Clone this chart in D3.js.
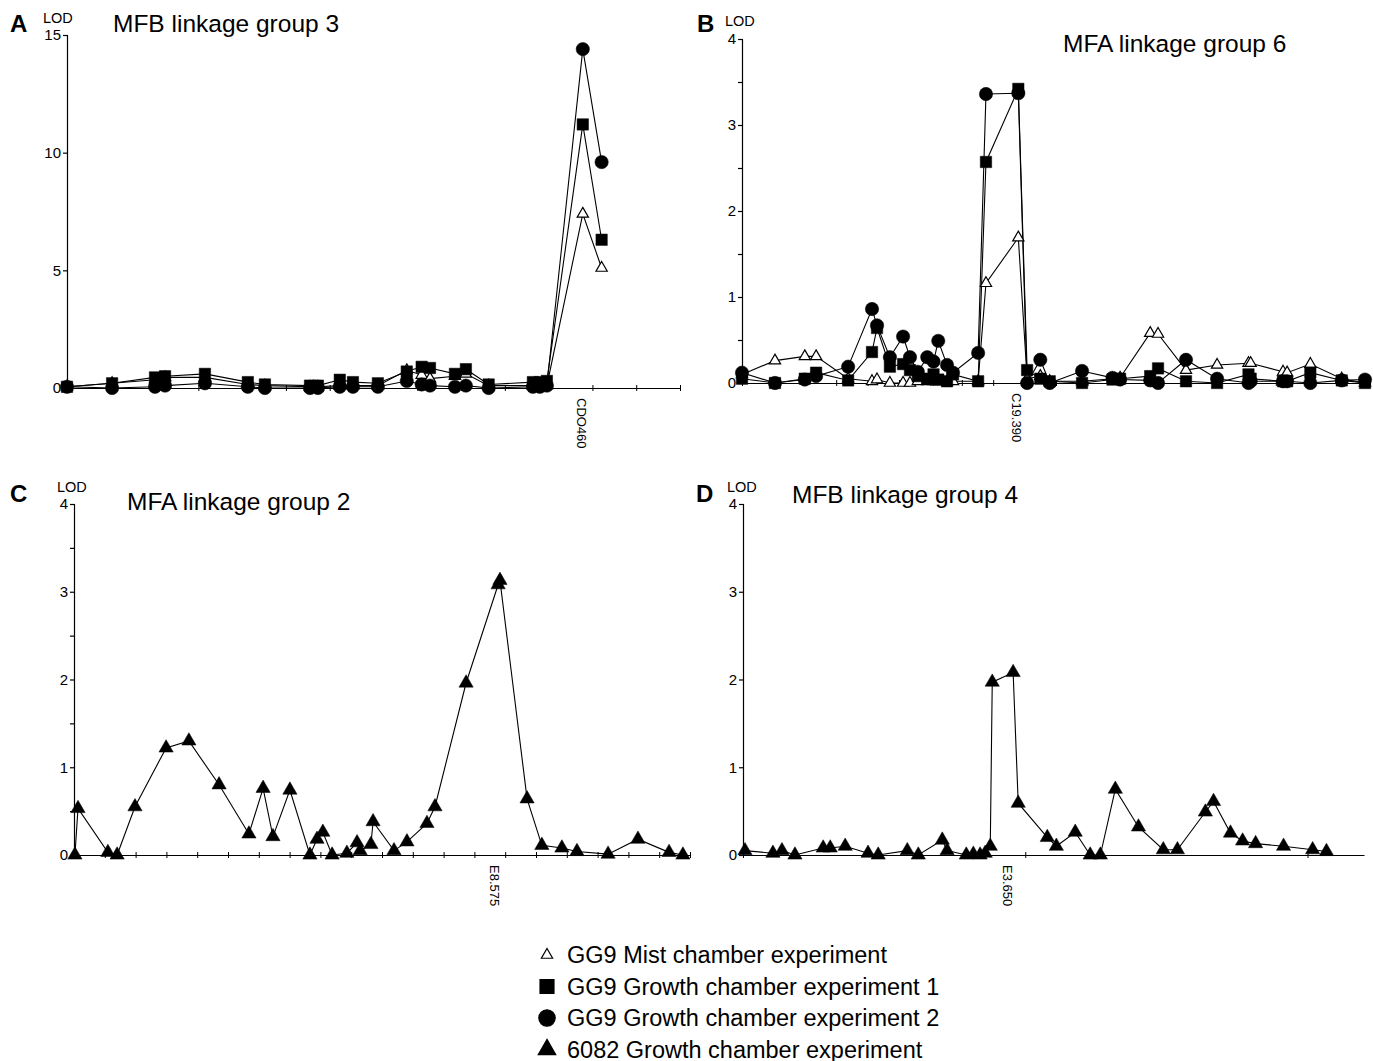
<!DOCTYPE html>
<html>
<head>
<meta charset="utf-8">
<script src="https://cdn.jsdelivr.net/npm/d3@7"></script>
<style>
    body { margin: 0; background: #fff; }
    svg text { font-family: "Liberation Sans", Arial, Helvetica, sans-serif; fill: #000; }
</style>
</head>
<body>
<div id="content"></div>
<script>
// ======= data: panel A (MFB linkage group 3) =======
var posA = [0, 10.3, 20.1, 22.4, 31.5, 41.3, 45.2, 55.5, 57.3, 62.3, 65.3, 71, 77.6, 81, 82.9, 88.6, 91.1, 96.3, 106.4, 108, 109.6, 117.8, 122.1];
var mistA = [0.05, 0.2, 0.35, 0.45, 0.45, 0.15, 0.1, 0.05, 0.05, 0.1, 0.1, 0.1, 0.75, 0.55, 0.4, 0.5, 0.6, 0.1, 0.1, 0.05, 0.1, 7.4, 5.1];
var gc1A = [0.05, 0.2, 0.45, 0.5, 0.6, 0.25, 0.15, 0.1, 0.1, 0.35, 0.25, 0.2, 0.7, 0.9, 0.85, 0.6, 0.8, 0.15, 0.25, 0.25, 0.3, 11.2, 6.3];
var gc2A = [0.05, 0.0, 0.05, 0.1, 0.2, 0.05, 0.0, 0.0, 0.0, 0.05, 0.05, 0.05, 0.3, 0.15, 0.1, 0.05, 0.1, 0.0, 0.05, 0.05, 0.1, 14.4, 9.6];

// ======= data: panel B (MFA linkage group 6) =======
var posB = [0, 10.5, 20, 23.6, 33.8, 41.4, 43, 47.1, 51.3, 53.5, 56, 59, 61, 62.5, 65.3, 67.2, 75.2, 77.7, 88, 90.8, 95, 98, 108.3, 118, 120.4, 130, 132.5, 141.4, 151.3, 161.3, 162, 172.3, 173.6, 181, 191, 198.4];
var mistB = [0.1, 0.26, 0.31, 0.31, 0.05, 0.02, 0.04, 0.0, 0.0, 0.0, 0.02, 0.02, 0.02, 0.02, 0.02, 0.02, 0.02, 1.16, 1.69, 0.05, 0.08, 0.02, 0.02, 0.05, 0.06, 0.58, 0.57, 0.15, 0.21, 0.23, 0.23, 0.13, 0.12, 0.22, 0.05, 0.0];
var gc1B = [0.05, 0.0, 0.05, 0.12, 0.03, 0.36, 0.64, 0.19, 0.22, 0.15, 0.08, 0.05, 0.1, 0.04, 0.02, 0.1, 0.02, 2.57, 3.42, 0.15, 0.05, 0.02, 0.0, 0.04, 0.05, 0.08, 0.17, 0.02, 0.0, 0.1, 0.05, 0.02, 0.02, 0.12, 0.03, 0.0];
var gc2B = [0.12, 0.0, 0.04, 0.08, 0.19, 0.86, 0.67, 0.3, 0.54, 0.3, 0.13, 0.3, 0.25, 0.49, 0.21, 0.12, 0.35, 3.36, 3.37, 0.0, 0.27, 0.0, 0.14, 0.06, 0.04, 0.03, 0.0, 0.27, 0.05, 0.0, 0.02, 0.02, 0.02, 0.0, 0.03, 0.04];

// ======= data: panel C (MFA linkage group 2) =======
var posC = [0.3, 1.3, 11, 14, 19.8, 29.9, 37.3, 47.1, 56.8, 61.4, 64.6, 70.1, 76.6, 78.9, 80.8, 83.8, 88.6, 91.9, 92.9, 96.4, 97.1, 103.9, 108.1, 114.6, 117.2, 127.3, 137.7, 138.3, 147.1, 151.9, 158.4, 163.3, 173.4, 183.1, 193.2, 197.7];
var line6082C = [0.0, 0.53, 0.03, 0.0, 0.55, 1.22, 1.3, 0.8, 0.24, 0.76, 0.21, 0.74, 0.0, 0.18, 0.26, 0.0, 0.02, 0.14, 0.05, 0.12, 0.38, 0.05, 0.15, 0.36, 0.55, 1.96, 3.08, 3.13, 0.64, 0.11, 0.08, 0.04, 0.01, 0.18, 0.03, 0.0];

// ======= data: panel D (MFB linkage group 4) =======
var posD = [0.7, 10.6, 13.8, 18.4, 28.4, 30.9, 36.2, 44.3, 47.9, 58.2, 62.1, 70.6, 72.3, 79.1, 81.6, 84, 85.8, 87.6, 88.3, 95.7, 97.5, 107.8, 111, 117.7, 123, 126.6, 131.9, 140.1, 148.9, 153.9, 163.8, 166.7, 172.7, 177, 181.6, 191.5, 201.8, 206.7];
var line6082D = [0.05, 0.02, 0.05, 0.0, 0.08, 0.08, 0.1, 0.02, 0.0, 0.05, 0.0, 0.17, 0.05, 0.0, 0.01, 0.0, 0.02, 0.1, 1.97, 2.08, 0.59, 0.2, 0.1, 0.26, 0.0, 0.0, 0.75, 0.32, 0.06, 0.06, 0.49, 0.61, 0.25, 0.16, 0.13, 0.1, 0.06, 0.04];

// ======= labels =======
var legendLabels = ["GG9 Mist chamber experiment", "GG9 Growth chamber experiment 1", "GG9 Growth chamber experiment 2", "6082 Growth chamber experiment"];

var panels = [
    { letter: "A", title: "MFB linkage group 3", left: 67, right: 680, top: 35, bottom: 388,
      xMax: 140, xTicks: d3.range(0, 141, 10), yMax: 15, yTicks: [0, 5, 10, 15],
      marker: "CDO460", markerPos: 117.6,
      letterXY: [10, 32], lodXY: [43, 23], titleXY: [113, 32],
      series: [{ pos: posA, val: mistA, sym: "open" }, { pos: posA, val: gc1A, sym: "square" }, { pos: posA, val: gc2A, sym: "circle" }] },
    { letter: "B", title: "MFA linkage group 6", left: 742, right: 1370, top: 39, bottom: 383,
      xMax: 200, xTicks: d3.range(0, 201, 10), yMax: 4, yTicks: d3.range(0, 4.01, 0.5),
      marker: "C19.390", markerPos: 87.6,
      letterXY: [697, 32], lodXY: [725, 26], titleXY: [1063, 52],
      series: [{ pos: posB, val: mistB, sym: "open" }, { pos: posB, val: gc1B, sym: "square" }, { pos: posB, val: gc2B, sym: "circle" }] },
    { letter: "C", title: "MFA linkage group 2", left: 74, right: 690, top: 504, bottom: 855,
      xMax: 200, xTicks: d3.range(0, 201, 10), yMax: 4, yTicks: d3.range(0, 4.01, 0.5),
      marker: "E8.575", markerPos: 136.7,
      letterXY: [10, 502], lodXY: [57, 492], titleXY: [127, 510],
      series: [{ pos: posC, val: line6082C, sym: "triangle" }] },
    { letter: "D", title: "MFB linkage group 4", left: 743, right: 1364, top: 504, bottom: 855,
      xMax: 220, xTicks: [0, 100, 200], yMax: 4, yTicks: [0, 1, 2, 3, 4],
      marker: "E3.650", markerPos: 94,
      letterXY: [696, 502], lodXY: [727, 492], titleXY: [792, 503],
      series: [{ pos: posD, val: line6082D, sym: "triangle" }] }
];

// ======= symbols =======
function symbolPath(sym, scale) {
    scale = scale || 1;
    if (sym == "circle") return d3.symbol().type(d3.symbolCircle).size(140 * scale)();
    if (sym == "square") return d3.symbol().type(d3.symbolSquare).size(130 * scale)();
    if (sym == "open") return d3.symbol().type(d3.symbolTriangle).size(55 * scale)();
    return d3.symbol().type(d3.symbolTriangle).size(88 * scale)();
}

var svg = d3.select("#content").append("svg")
    .attr("width", 1373)
    .attr("height", 1061);

// ======= draw each panel =======
panels.forEach(function(p) {
    var x = d3.scaleLinear().domain([0, p.xMax]).range([p.left, p.right]);
    var y = d3.scaleLinear().domain([0, p.yMax]).range([p.bottom, p.top]);
    var g = svg.append("g");

    // == x axis
    var xAxis = g.append("g")
        .attr("transform", "translate(0," + p.bottom + ")")
        .call(d3.axisBottom(x).tickValues(p.xTicks).tickSizeInner(3).tickSizeOuter(0).tickFormat(""));
    xAxis.selectAll(".tick line").attr("y1", -3).attr("y2", 3);
    xAxis.selectAll("path, line").attr("stroke", "#000").attr("stroke-width", 1);

    // == y axis
    var yAxis = g.append("g")
        .attr("transform", "translate(" + p.left + ",0)")
        .call(d3.axisLeft(y).tickValues(p.yTicks).tickSizeInner(4).tickSizeOuter(0)
            .tickFormat(function(d) { return Number.isInteger(d) ? d : ""; }));
    yAxis.attr("font-size", 15);
    yAxis.selectAll(".tick line").attr("x2", -4).attr("x1", 1);
    yAxis.selectAll("path, line").attr("stroke", "#000").attr("stroke-width", 1.2);
    yAxis.selectAll("text").attr("x", -6).style("font-size", "15px").attr("fill", "#000");

    // == marker label under the axis
    g.append("text")
        .attr("transform", "translate(" + (x(p.markerPos) - 5) + "," + (p.bottom + 10) + ") rotate(90)")
        .attr("font-size", 13)
        .text(p.marker);

    // == headings
    g.append("text").attr("x", p.letterXY[0]).attr("y", p.letterXY[1])
        .attr("font-size", 24).attr("font-weight", "bold").text(p.letter);
    g.append("text").attr("x", p.lodXY[0]).attr("y", p.lodXY[1])
        .attr("font-size", 14.5).text("LOD");
    g.append("text").attr("x", p.titleXY[0]).attr("y", p.titleXY[1])
        .attr("font-size", 24.5).text(p.title);

    // == lines
    var line = d3.line()
        .x(function(d) { return x(d[0]); })
        .y(function(d) { return y(d[1]); });
    p.series.forEach(function(s) {
        var pts = s.pos.map(function(v, i) { return [v, s.val[i]]; });
        g.append("path")
            .datum(pts)
            .attr("d", line)
            .attr("fill", "none")
            .attr("stroke", "#000")
            .attr("stroke-width", 1.1);
    });

    // == markers
    p.series.forEach(function(s) {
        var pts = s.pos.map(function(v, i) { return [v, s.val[i]]; });
        g.selectAll(null)
            .data(pts)
            .enter()
            .append("path")
                .attr("transform", function(d) { return "translate(" + x(d[0]) + "," + y(d[1]) + ")"; })
                .attr("d", symbolPath(s.sym))
                .attr("fill", s.sym == "open" ? "#fff" : "#000")
                .attr("stroke", "#000")
                .attr("stroke-width", s.sym == "open" ? 1.2 : 0.5);
    });
});

// ======= legend =======
var legendSyms = ["open", "square", "circle", "triangle"];
var legend = svg.append("g");
legendLabels.forEach(function(label, i) {
    var ly = 963 + i * 31.5;
    legend.append("path")
        .attr("transform", "translate(547," + (ly - 8) + ")")
        .attr("d", symbolPath(legendSyms[i], legendSyms[i] == "open" ? 1 : 1.5))
        .attr("fill", legendSyms[i] == "open" ? "#fff" : "#000")
        .attr("stroke", "#000")
        .attr("stroke-width", 1.2);
    legend.append("text")
        .attr("x", 567)
        .attr("y", ly)
        .attr("font-size", 23.5)
        .text(label);
});
</script>
</body>
</html>
